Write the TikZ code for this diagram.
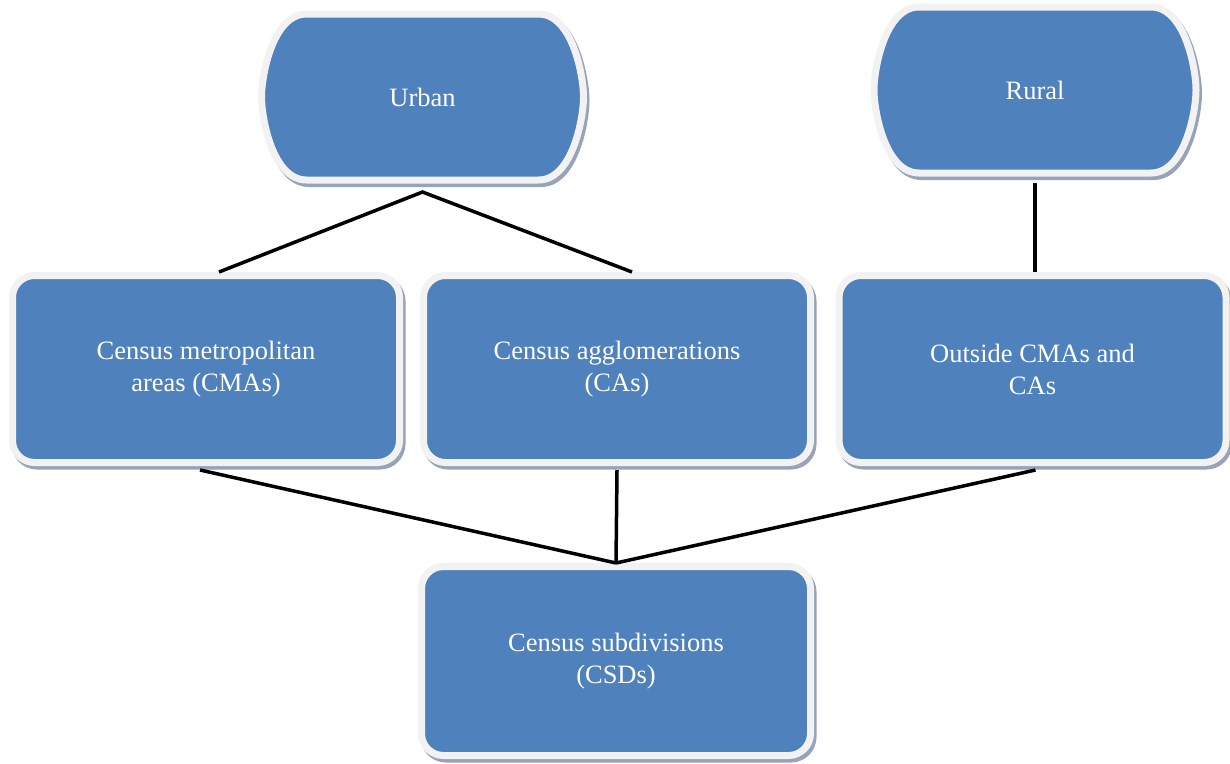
\documentclass[tikz,border=0pt]{standalone}
\usepackage{fontspec}
\setmainfont{Liberation Serif}
\usetikzlibrary{shadows,backgrounds}
\definecolor{boxblue}{HTML}{4F81BD}
\definecolor{rimgrey}{HTML}{F2F2F2}
\definecolor{shadegrey}{RGB}{150,163,184}
\begin{document}
\begin{tikzpicture}[x=1pt,y=-1pt,
		skin/.style={draw=rimgrey,line width=7pt,fill=boxblue,
			drop shadow={shadow xshift=2.5pt,shadow yshift=-3.5pt,fill=shadegrey,draw=shadegrey,line width=7pt,opacity=1}},
		label/.style={text=white,align=center,font=\fontsize{26.5}{32}\selectfont},
		area/.style={label,outer sep=0pt,minimum width=322pt,minimum height=166pt},
		unit/.style={skin,label,rounded corners=22pt,minimum width=387pt,minimum height=187pt},
		link/.style={line width=3.5pt}]
		\useasboundingbox (0,0) rectangle (1230,763);
		
		\node[area] (urban) at (422.5,97) {Urban};
		\node[area] (rural) at (1035,90) {Rural};
		
		% rounded ends of the two top shapes
		\begin{scope}[on background layer]
		\foreach \n in {urban,rural}{
			\path[skin] ([xshift=45pt]\n.north west) -- ([xshift=-45pt]\n.north east)
				.. controls ([xshift=-11pt]\n.north east) and ([yshift=21pt]\n.east) .. (\n.east)
				.. controls ([yshift=-21pt]\n.east) and ([xshift=-11pt]\n.south east) .. ([xshift=-45pt]\n.south east)
				-- ([xshift=45pt]\n.south west)
				.. controls ([xshift=11pt]\n.south west) and ([yshift=-21pt]\n.west) .. (\n.west)
				.. controls ([yshift=21pt]\n.west) and ([xshift=11pt]\n.north west) .. ([xshift=45pt]\n.north west) -- cycle;
		}
		\end{scope}
		
		\node[unit] (cma) at (206,369) {Census metropolitan\\areas (CMAs)};
		\node[unit] (ca) at (617,369) {Census agglomerations\\(CAs)};
		\node[unit] (outside) at (1032.5,369) {Outside CMAs and\\CAs};
		
		\node[unit,minimum width=389pt,minimum height=189pt] (csd) at (616,661) {Census subdivisions\\(CSDs)};
		
		\coordinate (uapex) at ([yshift=-12pt]urban.south);
		\draw[link] ([xshift=13pt]cma.north) -- (uapex) -- ([xshift=15pt]ca.north);
		\draw[link] ([yshift=-10pt]rural.south) -- (rural.south |- outside.north);
		
		\draw[link] ([xshift=-6pt,yshift=-4pt]cma.south) -- (csd.north);
		\draw[link] ([yshift=-4pt]ca.south) -- (csd.north);
		\draw[link] ([xshift=3pt,yshift=-4pt]outside.south) -- (csd.north);
\end{tikzpicture}
\end{document}
